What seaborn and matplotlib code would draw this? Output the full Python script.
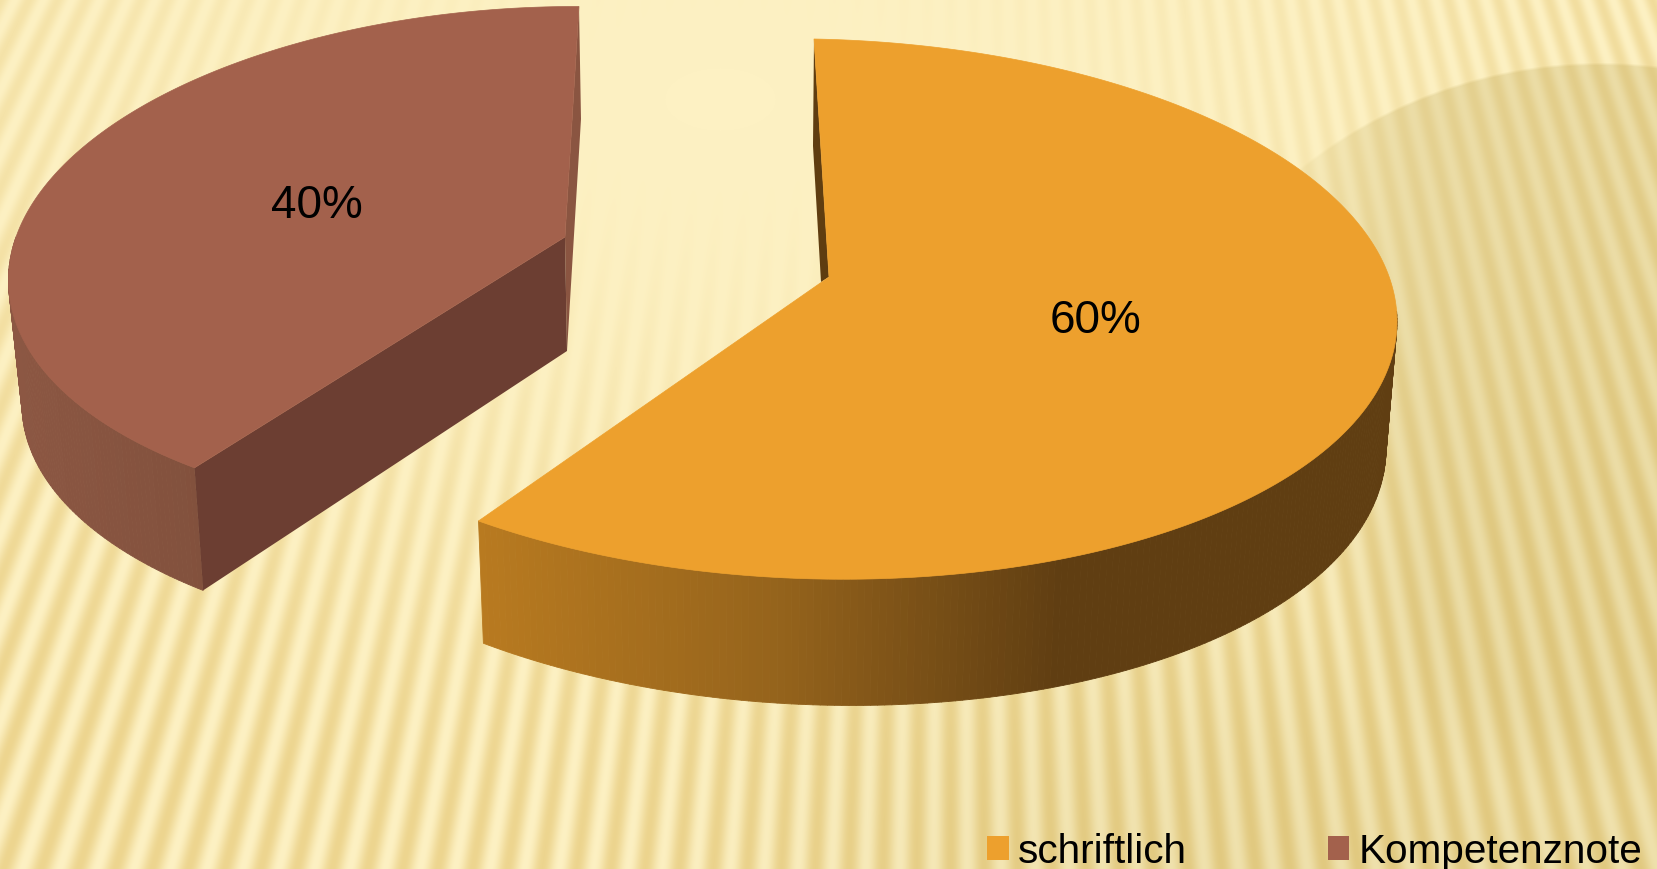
import numpy as np
import matplotlib
matplotlib.use("Agg")
import matplotlib.pyplot as plt
from matplotlib.collections import PolyCollection
from matplotlib.patches import Patch
import seaborn as sns

sns.set_theme(style='white')
plt.rcParams['font.family'] = ['Liberation Sans', 'DejaVu Sans']

categories = ["schriftlich", "Kompetenznote"]
shares = [60, 40]
top_colors = ["#EDA02D", "#A3614C"]
cut_colors = ["#5F3D10", "#6C3E32"]
band_colors = ["#5F3D10", "#8A5541"]
wall_stops = [["#B87A20", "#96641C", "#603E12"], ["#8C5743", "#82513D"]]

W, H = 1657, 870


def smooth(a, b, x):
    s = np.clip((x - a) / (b - a), 0, 1)
    return s * s * (3 - 2 * s)


def make_background():
    yy, xx = np.mgrid[0:H, 0:W]
    # stripes fan out from a point far above the slide
    phi = np.arctan2(xx - 950.0, yy + 1900.0)
    stripe = 0.5 + 0.5 * np.cos(2 * np.pi * phi / 0.0122)
    d = np.sqrt(((xx - 720) / 1100.0) ** 2 + ((yy - 100) / 620.0) ** 2)
    amp = smooth(0.05, 1.25, d)

    # big soft disc top right, its edge only shows near the top
    dist = np.sqrt((xx - 1600.0) ** 2 + (yy - 545.0) ** 2)
    w = 3 + 300 * smooth(180, 520, yy)
    disc = np.clip((482 - dist) / w, 0, 1) * smooth(1230, 1430, xx)
    low = 0.8 * smooth(500, 1300, xx) * smooth(400, 870, yy)
    g = np.maximum(disc, low)

    img = np.zeros((H, W, 3))
    base = (253, 241, 195)
    tone = (0.07, 0.085, 0.15)
    drop = (16, 28, 52)
    for i in range(3):
        img[..., i] = base[i] * (1 - g * tone[i]) - amp * (1 - 0.2 * g) * stripe * drop[i]
    return np.clip(img / 255.0, 0, 1)


def rim(c, u, v, t):
    t = np.radians(t)
    return np.column_stack([c[0] + u[0] * np.sin(t) - v[0] * np.cos(t),
                            c[1] + u[1] * np.sin(t) - v[1] * np.cos(t)])


def draw_wall(ax, top, bottom, palette, x0, x1):
    polys, cols = [], []
    for i in range(len(top) - 1):
        polys.append([top[i], top[i + 1], bottom[i + 1], bottom[i]])
        pos = (top[i][0] + top[i + 1][0]) / 2
        k = int(np.clip((pos - x0) / (x1 - x0), 0, 1) * (len(palette) - 1))
        cols.append(palette[k])
    ax.add_collection(PolyCollection(polys, facecolors=cols, edgecolors=cols, linewidths=0.6))


fig = plt.figure(figsize=(W / 100, H / 100), dpi=100)
ax = fig.add_axes([0, 0, 1, 1])
ax.imshow(make_background(), extent=(0, W, H, 0), aspect='auto', zorder=0)

edges = np.cumsum([0] + shares) / sum(shares) * 360

# brown piece, pulled out to the upper left
t = np.linspace(edges[1], edges[2], 200)
c, u, v = (538, 263), (528, 1.5), (-41, 255.5)
top = rim(c, u, v, t)
apex = (565, 238)
foot = (567, 352)
ax.add_patch(plt.Polygon([top[-1], (581, 120), foot, apex], fc=band_colors[1], ec='none'))
tw = t[t <= 276]
rim_top = rim(c, u, v, tw)
rim_low = rim((537.6, 397), (514, 10.6), (-40, 248), tw)
pal = sns.blend_palette(wall_stops[1], n_colors=128)
draw_wall(ax, rim_top, rim_low, pal, 8, 200)
ax.add_patch(plt.Polygon([rim_top[0], apex, foot, rim_low[0]], fc=cut_colors[1], ec='none'))
ax.add_patch(plt.Polygon(np.vstack([top, [apex]]), fc=top_colors[1], ec=top_colors[1], lw=0.5))

# orange piece
t = np.linspace(edges[0], edges[1], 300)
c, u, v = (817, 310), (580, 11), (3, 270)
top = rim(c, u, v, t)
apex = (829, 278)
ax.add_patch(plt.Polygon([top[0], (813, 147), (821, 283), apex], fc=cut_colors[0], ec='none'))
tw = t[t >= 88]
rim_top = rim(c, u, v, tw)
rim_low = rim((816, 432), (570, 16), (3, 274), tw)
pal = sns.blend_palette(wall_stops[0], n_colors=256)
draw_wall(ax, rim_top, rim_low, pal, 480, 1060)
ax.add_patch(plt.Polygon(np.vstack([top, [apex]]), fc=top_colors[0], ec=top_colors[0], lw=0.5))

ax.text(1095, 321, f"{shares[0]}%", fontsize=33, color='black', ha='center', va='center')
ax.text(317, 206, f"{shares[1]}%", fontsize=33, color='black', ha='center', va='center')

handles = [Patch(facecolor=col, edgecolor='none', label=name)
           for col, name in zip(top_colors, categories)]
ax.legend(handles=handles, ncol=2, frameon=False, fontsize=29.2, loc='lower left',
          bbox_to_anchor=(987, 871), bbox_transform=ax.transData,
          borderpad=0, borderaxespad=0, handlelength=0.54, handleheight=0.54,
          handletextpad=0.22, columnspacing=3.47, labelcolor='black')

ax.set_xlim(0, W)
ax.set_ylim(H, 0)
ax.set_axis_off()
fig.savefig('out.png', dpi=100)
